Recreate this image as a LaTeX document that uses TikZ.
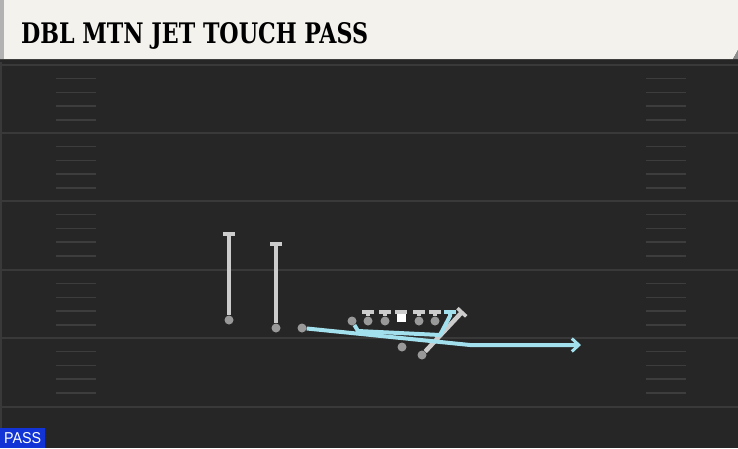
\documentclass[tikz,border=0pt]{standalone}
\usepackage{fontspec}
\setmainfont{DejaVu Serif}
\newfontfamily\tagfont{Liberation Sans}
\usetikzlibrary{arrows.meta}
\definecolor{fieldbg}{HTML}{262626}
\definecolor{yardline}{HTML}{393939}
\definecolor{hashline}{HTML}{3D3D3D}
\definecolor{headerbg}{HTML}{F4F2EC}
\definecolor{routegray}{HTML}{CCCCCC}
\definecolor{dotgray}{HTML}{999999}
\definecolor{routeblue}{HTML}{A3E0EE}
\definecolor{tagblue}{HTML}{1233D6}
\begin{document}
\begin{tikzpicture}[x=1pt,y=-1pt]
\tikzstyle{player} = [circle,fill=dotgray,inner sep=0,minimum size=9pt];
\tikzstyle{snap} = [rectangle,fill=white,inner sep=0,minimum size=9pt];
\tikzstyle{blockarr} = [line width=4.5pt,routegray,line join=round,-{Bar[width=12pt,line width=3.5pt]}];
\tikzstyle{passarr} = [line width=4pt,routeblue,line join=round,-{Straight Barb[length=7pt,width=13pt,line width=3pt]}];
\tikzstyle{passblock} = [line width=4pt,routeblue,line join=round,-{Bar[width=12pt,line width=3.5pt]}];
\useasboundingbox (0,0) rectangle (738,448);
\fill [fieldbg] (0,0) rectangle (738,448);
\foreach \y in {65,133,201,270,338,407}
  \draw [yardline,line width=2pt] (0,\y) -- (738,\y);
\foreach \y in {65,133,201,270,338}
  \foreach \k in {1,...,4} {
    \draw [hashline,line width=1.5pt] (56,{\y+13.7*\k}) -- (96,{\y+13.7*\k});
    \draw [hashline,line width=1.5pt] (646,{\y+13.7*\k}) -- (686,{\y+13.7*\k});
  }
\draw [yardline,line width=2pt] (1,62) -- (1,448);
\fill [black!85] (0,58) rectangle (738,62);
\fill [headerbg] (0,0) -- (738,0) -- (738,50) -- (733,59) -- (0,59) -- cycle;
\fill [black!45] (738,50) -- (738,59) -- (733,59) -- cycle;
\fill [black!30] (0,0) rectangle (4,59);
\node [anchor=base west,inner sep=0] (title) at (21,43) {\resizebox{347pt}{21pt}{\bfseries DBL MTN JET TOUCH PASS}};
\node [fill=tagblue,anchor=south west,minimum width=45pt,minimum height=20pt,inner sep=0,text=white] (tag) at (0,448) {\resizebox{37pt}{11pt}{\tagfont PASS}};

\node [player] (p1) at (229,320) {};
\node [player] (p2) at (276,328) {};
\node [player] (p3) at (302,328) {};
\node [player] (p4) at (352,321) {};
\node [player] (p5) at (368,321) {};
\node [player] (p6) at (385,321) {};
\node [snap] (p7) at (401,317.5) {};
\node [player] (p8) at (419,321) {};
\node [player] (p9) at (435,321) {};
\node [player] (p10) at (402,347) {};
\node [player] (p11) at (422,355) {};

\coordinate (e1) at (229,232);
\coordinate (e2) at (276,242);
\coordinate (e3) at (470,345);
\coordinate (e4) at (581,345);
\coordinate (e5) at (358,331);
\coordinate (e6) at (440,335);
\coordinate (e7) at (450,316);
\coordinate (e8) at (450,310);
\coordinate (e9) at (368,310);
\coordinate (e10) at (385,310);
\coordinate (e11) at (401,310);
\coordinate (e12) at (419,310);
\coordinate (e13) at (435,310);
\coordinate (e14) at (463,311);

\draw [blockarr] (p1) -- (e1);
\draw [blockarr] (p2) -- (e2);
\draw [blockarr] (p5) -- (e9);
\draw [blockarr] (p6) -- (e10);
\draw [blockarr] (p7) -- (e11);
\draw [blockarr] (p8) -- (e12);
\draw [blockarr] (p9) -- (e13);
\draw [blockarr] (p11) -- (e14);
\draw [passarr] (p3) -- (e3) -- (e4);
\draw [passblock] (p4) -- (e5) -- (e6) -- (e7) -- (e8);
\end{tikzpicture}
\end{document}
